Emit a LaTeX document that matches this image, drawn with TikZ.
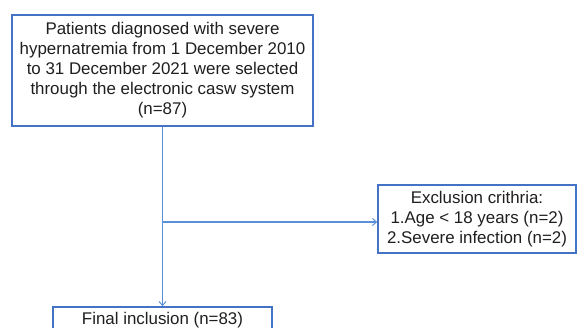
\documentclass[tikz,border=0pt]{standalone}
\usepackage{fontspec}
\setmainfont{Liberation Sans}
\usetikzlibrary{arrows.meta}
\definecolor{boxblue}{HTML}{4472C4}
\definecolor{lineblue}{HTML}{5B8FD9}
\definecolor{txt}{HTML}{1F1F1F}
\begin{document}
\begin{tikzpicture}[x=1pt,y=1pt,
  flowbox/.style={draw=boxblue,line width=1.6pt,fill=white,text=txt,align=center,
    font=\fontsize{16.9}{20}\selectfont,inner sep=0pt},
  conn/.style={draw=lineblue,line width=1.1pt},
  arr/.style={conn,-{Straight Barb[length=4pt,width=7pt,line width=1pt]}}]
\clip (0,0) rectangle (577,-328);
\fill[white] (0,0) rectangle (577,-328);
\node[flowbox,minimum width=301pt,minimum height=111pt] (top) at (162.5,-70.5)
  {Patients diagnosed with severe\\hypernatremia from 1 December 2010\\to 31 December 2021 were selected\\through the electronic casw system\\(n=87)};
\node[flowbox,minimum width=198pt,minimum height=68pt] (excl) at (477,-219)
  {Exclusion crithria:\\1.Age < 18 years (n=2)\\2.Severe infection (n=2)};
\node[flowbox,minimum width=219pt,minimum height=26pt] (final) at (162.5,-320)
  {Final inclusion (n=83)};
\coordinate (br) at (162.5,-222);
\draw[arr] (top.south) -- (final.north);
\draw[arr] (br) -- (br -| excl.west);
\end{tikzpicture}
\end{document}
